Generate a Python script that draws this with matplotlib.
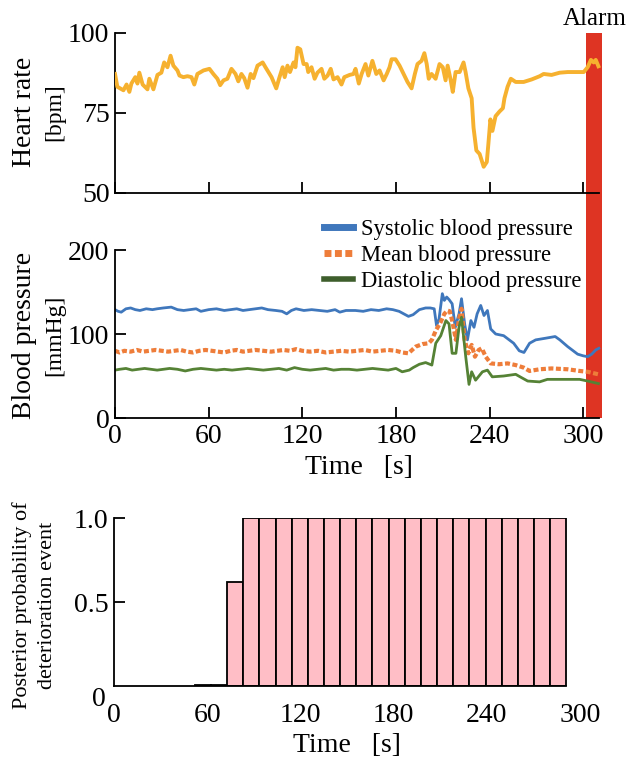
import matplotlib
matplotlib.use("Agg")
import matplotlib.pyplot as plt
from matplotlib.lines import Line2D

plt.rcParams['font.family'] = ['Liberation Serif', 'DejaVu Serif']

# heart rate [bpm]
hr_t = [0, 1.5, 5.4, 7.4, 9.2, 10.5, 13, 14.4, 15.6, 17.7, 20.8, 22, 24.6, 27.2, 29.7,
        31.5, 33.6, 35.6, 37.4, 40, 41.3, 43.8, 46.4, 49, 50.8, 52.8, 56.7, 60.5, 63,
        65.6, 67.4, 69.5, 72, 74.6, 77.2, 79, 81, 82.8, 84.9, 86.9, 88.7, 91.3, 94.6,
        96.4, 100.3, 103.3, 105.4, 107.4, 108.7, 110.5, 112.1, 114.4, 115.6, 116.9,
        118.7, 120.8, 122.8, 123.8, 125.9, 127.9, 129.7, 132.3, 134.1, 136.2, 138.2,
        140, 142.6, 145.1, 146.9, 150.3, 152.8, 154.1, 156.2, 158, 160.5, 162.3, 164.9,
        167.4, 169.5, 172.1, 174.1, 175.9, 177.2, 179.7, 182.3, 184.9, 187.4, 190,
        192.1, 193.8, 196.4, 198.2, 199.7, 201, 202.8, 205.4, 207.9, 210, 211.8, 213.1,
        215.1, 216.4, 218.2, 220.8, 223.3, 224.6, 226.4, 228.5, 229.7, 231.5, 233.6,
        234.9, 236.2, 238.2, 239.2, 240.5, 241.8, 243.8, 246.4, 248.5, 249.5, 251.5,
        253.6, 256.7, 261.8, 267, 272.1, 274.6, 279.7, 284.9, 290, 295.1, 300.3, 302.8,
        304.9, 306.7, 308, 309.7]
hr = [87.2, 83.2, 82.1, 83.9, 81.6, 84.2, 86.2, 84.2, 87.6, 83.9, 82.4, 85.7, 82.4, 86.9,
      87.6, 90.8, 89.3, 92.9, 89.8, 88.3, 86.7, 86.2, 86.5, 86.2, 83.9, 87.2, 88.3, 88.8,
      87.2, 85.7, 83.7, 85.2, 85.7, 88.8, 87.2, 84.9, 87.2, 85.9, 82.9, 87.2, 85.9, 89.8,
      90.8, 89.3, 86.2, 82.7, 86.2, 89.3, 86.2, 89.8, 87.8, 90.8, 89.3, 95.4, 94.9, 90.3,
      90.3, 87.8, 89.3, 85.7, 87.6, 88.8, 85.7, 86.7, 88.8, 85.5, 86.2, 83.9, 86.2, 86.9,
      87.2, 88.8, 84.2, 87.2, 90.3, 86.7, 91.3, 87.2, 88.3, 85.2, 87.2, 89.3, 91.8, 91.8,
      89.8, 87.2, 84.7, 82.7, 87.2, 90.3, 91.3, 93.7, 90.3, 85.7, 87.2, 85.7, 90.3, 89.3,
      85.2, 89.8, 85.2, 81.6, 87.8, 87.8, 90.8, 87.8, 82.7, 79.6, 70.4, 63.3, 62.2, 60.2,
      58.2, 59.7, 65.3, 73.0, 69.4, 74.0, 75.5, 76.5, 79.6, 83.2, 85.7, 84.7, 84.7, 85.5,
      86.5, 87.2, 86.9, 87.6, 87.8, 87.8, 87.8, 89.3, 91.6, 90.8, 91.6, 89.6]

# blood pressure [mmHg]
sys_t = [0, 2, 4, 7, 10, 13, 16, 20, 24, 27, 31, 36, 40, 44, 48, 52, 55, 60, 65, 70, 74,
         78, 82, 86, 90, 94, 98, 103, 107, 110, 113, 116, 121, 126, 131, 136, 141, 144,
         148, 154, 159, 164, 169, 174, 178, 182, 185, 188, 191, 195, 199, 202, 204.5,
         206, 207.6, 209.7, 211, 212.5, 214, 216, 218, 220.4, 222, 224, 225.8, 228, 230,
         232, 234.3, 236.4, 238.6, 240.7, 243.9, 249, 255.4, 259, 262, 265.6, 269.5,
         275.9, 282, 285, 290, 296.4, 300, 302.8, 305.4, 308, 310]
sys_bp = [129, 127, 126, 130, 131, 129, 128, 130, 129, 130, 131, 132, 129, 128, 129, 130,
          127, 129, 130, 128, 129, 130, 128, 129, 130, 131, 129, 128, 127, 124, 128, 130,
          128, 129, 128, 127, 129, 126, 128, 128, 127, 129, 128, 130, 129, 127, 124, 121,
          123, 129, 131, 131, 130, 110, 118, 148, 140, 144, 141, 136, 108, 124, 142, 112,
          93, 116, 108, 124, 134, 122, 128, 106, 100, 98, 89, 80, 78, 89, 93, 95, 97, 93,
          85, 76, 74, 73, 76, 81, 83]

mean_t = [0, 3, 6, 10, 14, 18, 22, 26, 30, 34, 38, 42, 46, 50, 54, 58, 62, 66, 70, 74, 78,
          82, 86, 90, 95, 100, 104, 108, 112, 116, 120, 125, 130, 135, 140, 145, 150, 155,
          160, 165, 170, 175, 180, 184, 188, 192.7, 197, 201, 203, 205.5, 208.6, 211, 213,
          214.5, 216, 218.4, 220.4, 222, 224, 226.4, 228.5, 230.6, 233, 235, 237.5, 240.7,
          246, 251.5, 256.7, 261.8, 265.6, 272, 279.7, 290, 297.7, 302.8, 309.7]
mean_bp = [80, 78, 80, 79, 81, 79, 80, 81, 80, 79, 80, 81, 79, 78, 80, 81, 80, 79, 78, 80,
           81, 79, 80, 81, 80, 79, 80, 81, 80, 82, 80, 79, 80, 78, 79, 80, 79, 80, 81, 79,
           80, 81, 80, 78, 77, 85, 88, 89, 93, 104, 114, 124, 128, 127, 116, 93, 118, 130,
           93, 77, 87, 73, 81, 83, 73, 65, 64, 65, 63, 60, 56, 58, 59, 58, 56, 55, 52]

dia_t = [0, 3, 7, 11, 15, 19, 23, 27, 31, 35, 40, 45, 50, 55, 60, 65, 70, 75, 80, 85, 90,
         95, 100, 105, 110, 115, 120, 125, 130, 135, 140, 145, 150, 155, 160, 165, 170,
         175, 180, 184, 188.5, 191, 195, 199, 203, 205.5, 208.7, 212, 214, 216, 218.4,
         220.4, 222, 224.7, 226.8, 228.5, 231, 235.4, 238.6, 241.7, 249, 256.7, 260.5,
         264.4, 272, 277, 290, 297.7, 302.8, 309.7]
dia_bp = [57, 58, 59, 57, 58, 59, 58, 57, 58, 59, 58, 56, 58, 59, 58, 57, 58, 57, 58, 59,
          58, 57, 58, 59, 57, 60, 58, 57, 58, 59, 57, 58, 58, 57, 58, 59, 58, 57, 59, 55,
          57, 60, 64, 66, 63, 89, 98, 116, 112, 77, 77, 108, 120, 73, 40, 55, 45, 55, 57,
          49, 50, 52, 48, 44, 43, 46, 46, 46, 44, 41]

# posterior probability, one bar per window
win_start = [52.0, 62.4, 72.8, 83.2, 93.6, 104.0, 114.4, 124.8, 135.2, 145.6, 156.0, 166.4,
             176.8, 187.2, 197.6, 208.0, 218.4, 228.8, 239.2, 249.6, 260.0, 270.4, 280.8]
win_len = 10.4
post = [0.004, 0.004, 0.62, 1.0, 1.0, 1.0, 1.0, 1.0, 1.0, 1.0, 1.0, 1.0, 1.0, 1.0, 1.0,
        1.0, 1.0, 1.0, 1.0, 1.0, 1.0, 1.0, 1.0]

alarm = (302, 312)
xticks = [0, 60, 120, 180, 240, 300]

W, H = 629, 763
fig = plt.figure(figsize=(W / 100, H / 100), dpi=100)

def box(l, t, r, b):
    return [l / W, 1 - b / H, (r - l) / W, (b - t) / H]

ax1 = fig.add_axes(box(115, 33, 602, 193))
ax2 = fig.add_axes(box(115, 250, 602, 418))
ax3 = fig.add_axes(box(114, 518, 580, 686))

for ax in (ax1, ax2, ax3):
    ax.spines['top'].set_visible(False)
    ax.spines['right'].set_visible(False)
    ax.tick_params(direction='in', length=8, width=1.3, labelsize=20, pad=4)
    for s in ('left', 'bottom'):
        ax.spines[s].set_linewidth(1.3)

# heart rate
ax1.plot(hr_t, hr, color='#F6B12F', lw=2.8, zorder=3)
ax1.set_xlim(0, 312)
ax1.set_ylim(50, 100)
ax1.set_yticks([50, 75, 100])
ax1.set_xticks(xticks)
ax1.set_xticklabels([])
ax1.spines['bottom'].set_bounds(0, 310)
ax1.axvspan(alarm[0], alarm[1], ymin=-(418 - 193) / 160, ymax=1.0,
            color='#DE3423', lw=0, clip_on=False, zorder=0.5)
ax1.text((alarm[0] + alarm[1]) / 2, 101, 'Alarm', ha='center', va='bottom', fontsize=18)

# blood pressure
ax2.patch.set_visible(False)
ax2.plot(sys_t, sys_bp, color='#3F77BC', lw=2.0)
ax2.plot(mean_t, mean_bp, color='#EE7D3A', lw=3.0, ls=(0, (1.2, 0.6)))
ax2.plot(dia_t, dia_bp, color='#558235', lw=2.0)
ax2.set_xlim(0, 312)
ax2.set_ylim(0, 200)
ax2.set_yticks([0, 100, 200])
ax2.set_xticks(xticks)
ax2.spines['bottom'].set_bounds(0, 310)
handles = [Line2D([], [], color='#3F77BC', lw=5),
           Line2D([], [], color='#EE7D3A', lw=5, ls=(0, (1.0, 0.5))),
           Line2D([], [], color='#3E5E2C', lw=4)]
ax2.legend(handles, ['Systolic blood pressure', 'Mean blood pressure',
                     'Diastolic blood pressure'],
           loc='upper left', bbox_to_anchor=(0.41, 1.24), frameon=False, fontsize=16.3,
           handlelength=1.3, handletextpad=0.35, labelspacing=0.22, borderaxespad=0)
ax2.set_xlabel('Time   [s]', fontsize=20, labelpad=5)

# posterior probability
ax3.bar(win_start, post, width=win_len, align='edge', color='#FFBEC6',
        edgecolor='black', lw=1.3)
ax3.set_xlim(0, 300)
ax3.set_ylim(0, 1.0)
ax3.set_yticks([0.5, 1.0])
ax3.set_yticklabels(['0.5', '1.0'])
ax3.set_xticks(xticks)
ax3.tick_params(axis='x', length=0, pad=12)
ax3.spines['bottom'].set_bounds(0, win_start[-1] + win_len)
ax3.text(-0.018, -0.08, '0', transform=ax3.transAxes, ha='right', va='center', fontsize=20)
ax3.set_xlabel('Time   [s]', fontsize=20, labelpad=4)

# y labels
fig.text(25 / W, 1 - 112 / H, 'Heart rate', rotation=90, ha='center', va='center', fontsize=20)
fig.text(55 / W, 1 - 112 / H, '[bpm]', rotation=90, ha='center', va='center', fontsize=17)
fig.text(25 / W, 1 - 335 / H, 'Blood pressure', rotation=90, ha='center', va='center', fontsize=20)
fig.text(55 / W, 1 - 335 / H, '[mmHg]', rotation=90, ha='center', va='center', fontsize=17)
fig.text(22 / W, 1 - 605 / H, 'Posterior probability of', rotation=90, ha='center',
         va='center', fontsize=16)
fig.text(48 / W, 1 - 605 / H, 'deterioration event', rotation=90, ha='center',
         va='center', fontsize=16)

fig.savefig('out.png', dpi=100)
